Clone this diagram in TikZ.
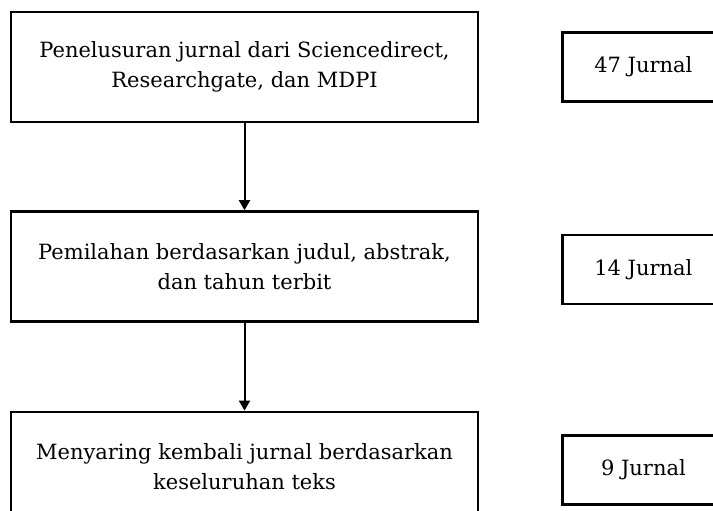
\documentclass[tikz,border=0pt]{standalone}
\usepackage{fontspec}
\setmainfont{DejaVu Serif}
\usetikzlibrary{positioning,arrows.meta}
\begin{document}
\begin{tikzpicture}[x=1pt,y=1pt,
  tahap/.style={draw,line width=2.4pt,minimum width=467pt,minimum height=110pt,
    align=center,font=\fontsize{21}{30}\selectfont},
  hasil/.style={draw,line width=2.4pt,minimum width=162pt,minimum height=69pt,
    font=\fontsize{21}{30}\selectfont},
  panah/.style={-{Triangle[width=11pt,length=10pt]},line width=2pt}]
\useasboundingbox (0,0) rectangle (713,-511);
\node [tahap] (t1) at (244.5,-67) {Penelusuran jurnal dari Sciencedirect,\\Researchgate, dan MDPI};
\node [tahap,below=87pt of t1] (t2) {Pemilahan berdasarkan judul, abstrak,\\dan tahun terbit};
\node [tahap,below=88pt of t2] (t3) {Menyaring kembali jurnal berdasarkan\\keseluruhan teks};
\node [hasil,right=82pt of t1] (h1) {47 Jurnal};
\node [hasil,right=82pt of t2,yshift=-3pt] (h2) {14 Jurnal};
\node [hasil,right=82pt of t3,yshift=-3pt] (h3) {9 Jurnal};
\draw [panah] (t1) -- (t2);
\draw [panah] (t2) -- (t3);
\end{tikzpicture}
\end{document}
